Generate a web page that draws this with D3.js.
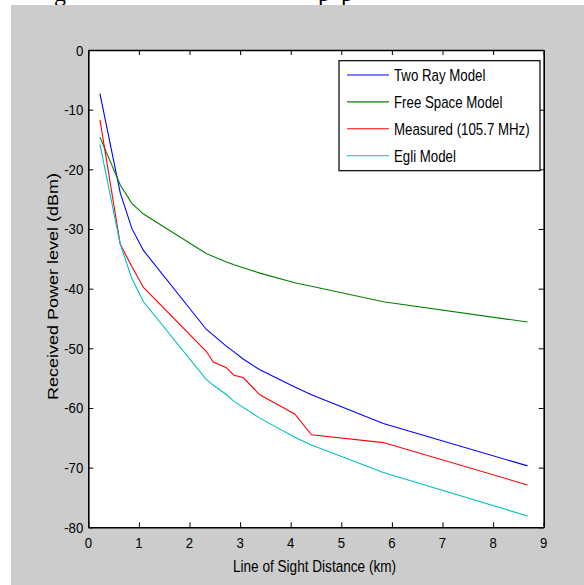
<!DOCTYPE html>
<html><head><meta charset="utf-8">
<script src="https://cdn.jsdelivr.net/npm/d3@7"></script>
<style>
body{margin:0;background:#fff;}
svg{display:block;}
text{font-family:"Liberation Sans",Arial,sans-serif;fill:#000;}
</style>
</head><body>
<svg id="c" width="584" height="585"></svg>
<script>
// ---- data ----
const distances = [0.23,0.63,0.86,1.09,2.33,2.47,2.72,2.88,3.06,3.39,4.08,4.41,5.83,8.68];
const twoRay    = [-7.3,-23.9,-29.9,-33.6,-46.8,-47.8,-49.6,-50.6,-51.8,-53.6,-56.5,-57.8,-62.6,-69.7];
const freeSpace = [-14.6,-22.6,-25.7,-27.5,-34.1,-34.6,-35.5,-36.0,-36.5,-37.4,-39.0,-39.6,-42.2,-45.6];
const measured  = [-11.7,-32.5,-36.3,-39.8,-50.5,-52.3,-53.2,-54.5,-54.9,-57.8,-61.0,-64.5,-65.8,-72.9];
const egli      = [-15.8,-32.5,-38.3,-42.2,-55.2,-56.2,-57.7,-58.9,-59.9,-61.7,-64.9,-66.2,-70.8,-78.1];
const seriesNames  = ["Two Ray Model","Free Space Model","Measured (105.7 MHz)","Egli Model"];
const seriesColors = ["#0000ff","#008000","#ff0000","#00bfbf"];
const xTicks = [0,1,2,3,4,5,6,7,8,9];
const yTicks = [0,-10,-20,-30,-40,-50,-60,-70,-80];
const xLabel = "Line of Sight Distance (km)";
const yLabel = "Received Power level (dBm)";
const captionBits = [{t:"g",x:54},{t:"p",x:318},{t:"p",x:341}];

const series = [twoRay, freeSpace, measured, egli];

const svg = d3.select("#c");
const L = 88.3, R = 543.7, T = 50, B = 527.3;
const x = d3.scaleLinear().domain([0,9]).range([L,R]);
const y = d3.scaleLinear().domain([-80,0]).range([B,T]);

// fragments of document text above the figure
svg.selectAll("text.cap").data(captionBits).join("text")
  .attr("class","cap")
  .attr("x",d=>d.x).attr("y",1)
  .style("font-family","'Liberation Serif','Times New Roman',serif")
  .style("font-size","24px")
  .text(d=>d.t);

// figure background
svg.append("rect").attr("x",11).attr("y",5).attr("width",573).attr("height",580).attr("fill","#cccccc");
// axes background
svg.append("rect").attr("x",L).attr("y",T).attr("width",R-L).attr("height",B-T).attr("fill","#fff");

// data lines
const line = d3.line().x((d,i)=>x(distances[i])).y(d=>y(d));
svg.append("g").selectAll("path").data(series).join("path")
  .attr("d",line).attr("fill","none")
  .attr("stroke",(d,i)=>seriesColors[i]).attr("stroke-width",1.1);

// axes (ticks inward on all four sides)
function styleAxis(g){
  g.selectAll(".domain").attr("stroke","#000").attr("stroke-width",1.6);
  g.selectAll(".tick line").attr("stroke","#000").attr("stroke-width",1);
  g.selectAll(".tick text").remove();
}
svg.append("g").attr("transform",`translate(0,${B})`)
  .call(d3.axisBottom(x).tickValues(xTicks).tickSize(-5).tickSizeOuter(0).tickFormat("")).call(styleAxis);
svg.append("g").attr("transform",`translate(0,${T})`)
  .call(d3.axisTop(x).tickValues(xTicks).tickSize(-5).tickSizeOuter(0).tickFormat("")).call(styleAxis);
svg.append("g").attr("transform",`translate(${L},0)`)
  .call(d3.axisLeft(y).tickValues(yTicks).tickSize(-5).tickSizeOuter(0).tickFormat("")).call(styleAxis);
svg.append("g").attr("transform",`translate(${R},0)`)
  .call(d3.axisRight(y).tickValues(yTicks).tickSize(-5).tickSizeOuter(0).tickFormat("")).call(styleAxis);

// tick labels
svg.append("g").selectAll("text").data(xTicks).join("text")
  .attr("transform",d=>`translate(${x(d)},${B+21}) scale(0.88,1)`)
  .attr("text-anchor","middle").style("font-size","15px")
  .text(d=>d);
svg.append("g").selectAll("text").data(yTicks).join("text")
  .attr("transform",d=>`translate(${L-5},${y(d)+5.5}) scale(0.88,1)`)
  .attr("text-anchor","end").style("font-size","15px")
  .text(d=>d);

// axis labels
svg.append("text")
  .attr("transform",`translate(${(L+R)/2-1.5},571.5) scale(0.8,1)`)
  .attr("text-anchor","middle").style("font-size","17px").text(xLabel);
svg.append("text")
  .attr("transform",`translate(58,286.5) rotate(-90) scale(1,0.8)`)
  .attr("text-anchor","middle").style("font-size","18px").text(yLabel);

// legend
const lg = svg.append("g");
lg.append("rect").attr("x",339).attr("y",60.7).attr("width",201).attr("height",110)
  .attr("fill","#fff").attr("stroke","#000").attr("stroke-width",1.2);
const rows = lg.selectAll("g.row").data(seriesNames).join("g").attr("class","row")
  .attr("transform",(d,i)=>`translate(0,${75+i*26.9})`);
rows.append("line").attr("x1",347).attr("x2",389).attr("y1",0).attr("y2",0)
  .attr("stroke",(d,i)=>seriesColors[i]).attr("stroke-width",1.1);
rows.append("text").attr("transform","translate(394,5.8) scale(0.83,1)")
  .style("font-size","16px").text(d=>d);
</script>
</body></html>
